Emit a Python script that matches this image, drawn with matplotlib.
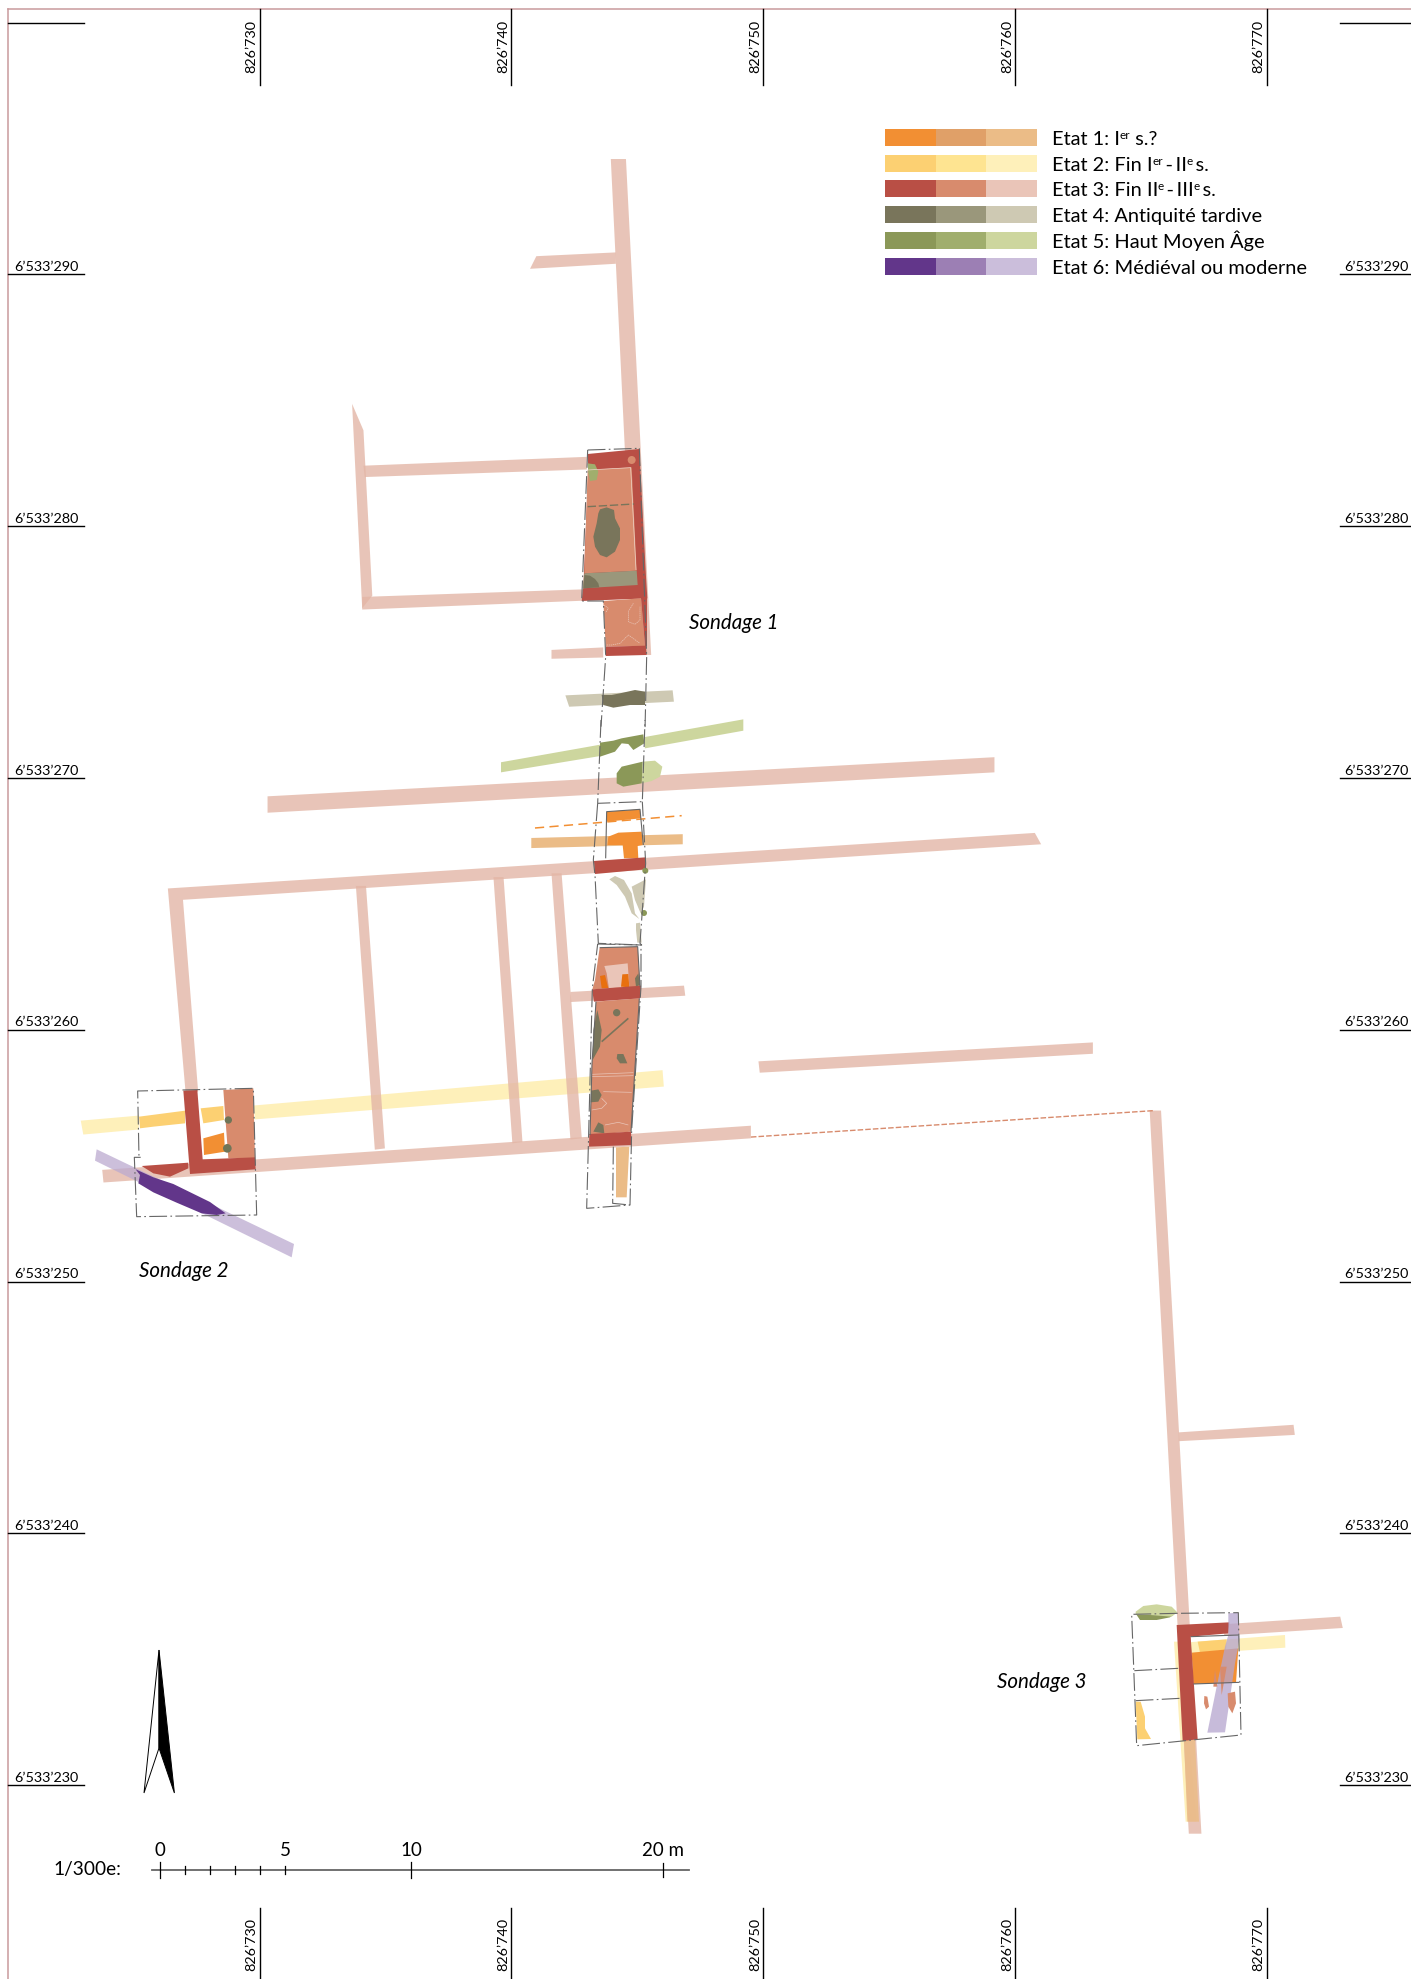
#!/usr/bin/env python3
"""Site plan: Sondages 1-3 on the national grid, by construction state."""

import matplotlib
matplotlib.use("Agg")
import matplotlib.pyplot as plt
import numpy as np
from matplotlib.patches import Circle, Polygon

plt.rcParams["font.family"] = ["Lato", "DejaVu Sans"]

W, H = 1411, 1979
PX_PER_M = 25.18

# grid lines of the sheet
EASTINGS = [826730, 826740, 826750, 826760, 826770]
NORTHINGS = [6533290, 6533280, 6533270, 6533260, 6533250, 6533240, 6533230]
TOP_NORTHING = 6533300
SCALE_TICKS = [0, 1, 2, 3, 4, 5, 10, 20]
SCALE_LABELS = {0: "0", 5: "5", 10: "10", 20: "20 m"}

# state colours: dark (walls), medium (floors), light (restored lines)
STATE_COLOURS = [
    ["#F28F33", "#E0A068", "#EBBC87"],
    ["#FCD072", "#FEE491", "#FEF0BA"],
    ["#B94F45", "#D88B6D", "#EAC5B8"],
    ["#79755B", "#9A977B", "#CEC9B3"],
    ["#8B9858", "#A0AE6D", "#CDD69E"],
    ["#62368A", "#9C7FB4", "#CBBEDB"],
]
# legend text as (text, superscript) runs
STATE_LABELS = [
    [("Etat 1: I", 0), ("er", 1), (" s.?", 0)],
    [("Etat 2: Fin I", 0), ("er", 1), ("\u2009-\u2009II", 0), ("e", 1), ("\u2009s.", 0)],
    [("Etat 3: Fin II", 0), ("e", 1), ("\u2009-\u2009III", 0), ("e", 1), ("\u2009s.", 0)],
    [("Etat 4: Antiquité tardive", 0)],
    [("Etat 5: Haut Moyen Âge", 0)],
    [("Etat 6: Médiéval ou moderne", 0)],
]
SONDAGES = ["Sondage 1", "Sondage 2", "Sondage 3"]

# survey frames: origin on the sheet and pixels per frame unit
OVERVIEW = (0, 0, 1.262)
TRENCH1_N = (540, 430, 1 / 3)
TRENCH1_M = (500, 720, 1 / 3)
TRENCH1_S = (560, 930, 1 / 3)
TRENCH2 = (70, 1060, 1 / 3)
TRENCH3 = (1100, 1580, 1 / 3)

# restored wall lines, state 3 (overview frame)
ROADS = [
    [(484, 126), (496, 126), (516, 519), (503, 519)],
    [(420, 213), (425, 203), (488, 200), (488, 209)],
    [(279, 320), (288, 341), (295, 472), (287, 482)],
    [(288, 369), (465, 362), (465, 372), (289, 378)],
    [(287, 473), (462, 467), (462, 476), (287, 483)],
    [(437, 515), (478, 513), (478, 521), (437, 522)],
    [(212, 631), (788, 600), (788, 612), (212, 644)],
    [(133, 704), (820, 660), (825, 669), (145, 713), (157, 865), (147, 865)],
    [(282, 702), (290, 702), (305, 910), (297, 911)],
    [(391, 695), (399, 695), (414, 905), (406, 906)],
    [(437, 692), (445, 692), (461, 902), (452, 903)],
    [(452, 786), (542, 781), (543, 789), (452, 794)],
    [(601, 841), (866, 826), (866, 835), (602, 850)],
    [(81, 927), (595, 892), (595, 902), (82, 937)],
    [(911, 880), (920, 880), (952, 1453), (942, 1453)],
    [(934, 1135), (1025, 1129), (1026, 1137), (934, 1142)],
    [(970, 1287), (1062, 1281), (1064, 1290), (970, 1296)],
]
ROAD_LINK = [(595, 901), (915, 880)]

# other restored lines (overview frame); they stop at the trench edges
LINES_STATE2 = [
    [(64, 888), (110, 884), (110, 895), (66, 899)],
    [(201, 876), (525, 848), (526, 861), (202, 887)],
]
LINE_STATE1 = [(421, 664), (541, 661), (541, 669), (421, 672)]
LINE_STATE4 = [(448, 551), (533, 547), (534, 556), (451, 560)]
LINES_STATE5 = [
    [(397, 604), (476, 590), (476, 599), (397, 612)],
    [(511, 584), (589, 570), (589, 579), (511, 593)],
]

# Sondage 1, north part
T1N_RED = [(143, 72), (298, 57), (318, 440), (322, 505), (125, 513), (130, 470), (145, 120)]
T1N_FLOOR = [(143, 120), (275, 112), (290, 422), (133, 430)]
T1N_GREY = [(133, 430), (290, 422), (293, 465), (128, 475)]
T1N_ARC = [(130, 475), (133, 435), (150, 437), (165, 447), (175, 460), (178, 472)]
T1N_PIT = [(180, 238), (200, 232), (222, 240), (225, 265), (240, 295), (240, 330), (225, 365),
           (200, 382), (180, 375), (165, 350), (160, 320), (170, 280), (175, 250)]
T1N_GREEN = [(143, 100), (165, 103), (175, 125), (170, 150), (150, 153), (145, 130)]
T1N_ROOM = [(190, 513), (303, 505), (315, 648), (197, 650)]
T1N_ROOM_E = [(303, 505), (320, 505), (320, 648), (315, 648)]
T1N_ROOM_S = [(197, 650), (318, 647), (320, 675), (197, 678)]
T1N_LATE = [(185, 795), (215, 795), (240, 790), (285, 780), (315, 785), (315, 825), (270, 825),
            (220, 833), (190, 825)]
T1N_PALE = [
    [(192, 525), (205, 535), (197, 548)],
    [(280, 520), (265, 545), (265, 575), (285, 583), (300, 570), (300, 530)],
    [(200, 645), (215, 645), (240, 640), (265, 615), (300, 640)],
]
T1N_OUTLINE = [(298, 55), (320, 680), (315, 900)]
T1N_OUTLINE_W = [(143, 60), (298, 55)]
T1N_OUTLINE_L = [(143, 60), (125, 513), (190, 513), (197, 680), (183, 890)]

# Sondage 1, middle part
T1M_GREEN = [(300, 68), (340, 62), (365, 55), (430, 43), (433, 70), (400, 90), (385, 72),
             (365, 70), (345, 95), (300, 110)]
T1M_BLOB_D = [(350, 160), (365, 140), (428, 125), (425, 190), (370, 200), (350, 190)]
T1M_BLOB_L = [(428, 125), (465, 122), (487, 140), (480, 170), (455, 183), (425, 190)]
T1M_DASH = [(105, 324), (545, 287)]
T1M_ORANGE_N = [(320, 275), (420, 268), (423, 295), (320, 305)]
T1M_ORANGE_T = [(325, 350), (355, 338), (425, 335), (428, 375), (413, 378), (415, 415),
                (372, 415), (368, 375), (322, 375)]
T1M_RED = [(282, 423), (437, 412), (437, 448), (285, 462)]
T1M_DOTS = [(436, 452), (432, 579)]
T1M_LATE = [
    [(328, 478), (345, 468), (372, 480), (395, 520), (405, 580), (418, 597), (395, 580),
     (375, 530), (350, 495)],
    [(395, 500), (438, 478), (432, 560), (422, 580), (405, 540)],
    [(408, 610), (420, 608), (425, 668), (412, 668), (408, 630)],
]
T1M_OUTLINES = [
    [(303, 0), (293, 250), (427, 245), (435, 0)],
    [(293, 250), (280, 420), (285, 465), (295, 670), (425, 675), (420, 670), (437, 430), (427, 245)],
]
T1M_SOLID = [(317, 415), (320, 275), (420, 268), (430, 375)]

# Sondage 1, south part
T1S_FLOOR_N = [(119, 53), (233, 50), (240, 170), (97, 178), (105, 150)]
T1S_PALE = [(133, 108), (203, 100), (208, 170), (147, 175), (140, 130)]
T1S_TABS = [[(120, 138), (135, 135), (145, 175), (125, 175)],
            [(187, 133), (205, 132), (208, 172), (183, 170)]]
T1S_RED_N = [(96, 178), (243, 167), (240, 205), (102, 215)]
T1S_FLOOR = [(108, 215), (238, 205), (213, 605), (90, 615), (96, 400)]
T1S_RED_S = [(88, 612), (213, 605), (215, 645), (87, 650)]
T1S_PITS = [
    [(225, 145), (235, 130), (240, 165), (228, 170)],
    [(112, 240), (125, 300), (120, 350), (98, 390), (100, 300)],
    [(172, 372), (190, 372), (202, 400), (180, 400), (170, 385)],
    [(93, 482), (115, 478), (125, 495), (115, 515), (92, 517)],
    [(100, 605), (115, 577), (130, 585), (133, 610)],
]
T1S_PIT_ROUND = (170, 248)
T1S_DITCH = [(125, 335), (205, 265)]
T1S_PALE_LINES = [
    [(95, 433), (220, 428)],
    [(95, 440), (220, 437)],
    [(130, 485), (215, 487)],
    [(125, 505), (140, 520), (125, 535), (95, 540)],
    [(135, 585), (175, 577), (205, 585)],
]
T1S_BAR = [(168, 652), (208, 650), (200, 802), (168, 802)]
T1S_OUTLINES = [
    [(113, 42), (243, 45), (243, 170), (215, 600), (210, 825), (80, 835), (85, 650), (97, 175), (113, 42)],
    [(160, 650), (158, 820), (210, 825)],
]
T1S_SOLID = [[(119, 53), (233, 50), (240, 170)], [(108, 215), (96, 400), (90, 615)], [(238, 205), (213, 605)]]

# Sondage 2
T2_Y1 = [(207, 170), (345, 152), (345, 190), (250, 200), (210, 205)]
T2_Y2 = [(392, 145), (460, 138), (462, 180), (400, 190)]
T2_ORANGE = [(400, 235), (462, 218), (465, 275), (402, 285)]
T2_FLOOR = [(460, 90), (550, 85), (555, 295), (475, 295)]
T2_RED_L = [(340, 92), (382, 90), (398, 298), (555, 292), (557, 328), (360, 342)]
T2_RED_W = [(215, 318), (355, 308), (355, 325), (300, 350), (250, 340)]
T2_DOTS = [(475, 180, 11), (472, 265, 13)]
T2_BAND = [(80, 268), (672, 552), (665, 592), (75, 302)]
T2_PURPLE = [(197, 328), (250, 352), (310, 372), (420, 426), (467, 460), (440, 465), (395, 460),
             (320, 428), (250, 397), (205, 370), (210, 345)]
T2_OUTLINE = [(212, 292), (193, 292), (200, 470), (560, 465), (550, 85), (203, 93), (207, 292)]

# Sondage 3
T3_BLOB_L = [(107, 95), (130, 78), (170, 73), (215, 80), (232, 97), (215, 110), (150, 105), (107, 105)]
T3_BLOB_D = [(110, 105), (225, 100), (210, 112), (170, 120), (120, 120)]
T3_STRIP_Y = [(222, 185), (240, 185), (290, 725), (257, 725)]
T3_STRIP_O = [(252, 480), (285, 480), (297, 725), (262, 725)]
T3_LINE_Y = [(225, 190), (555, 165), (556, 203), (235, 225)]
T3_YELLOW = [(293, 185), (380, 178), (378, 210), (300, 218)]
T3_ORANGE = [(275, 218), (415, 205), (408, 308), (280, 312)]
T3_RED = [(230, 135), (388, 127), (385, 160), (272, 170), (293, 478), (248, 483)]
T3_PURPLE = [(385, 100), (415, 98), (418, 180), (405, 250), (375, 457), (322, 458), (350, 320),
             (375, 200), (385, 165)]
T3_SPOTS = [
    [(383, 340), (405, 335), (408, 370), (397, 400), (385, 380)],
    [(313, 348), (322, 350), (327, 380), (318, 388), (312, 370)],
    [(345, 270), (352, 320), (340, 320)],
    [(360, 260), (380, 260), (365, 345)],
]
T3_YELLOW_W = [(107, 365), (122, 365), (135, 410), (135, 445), (153, 477), (112, 478)]
T3_OUTLINES = [
    [(232, 100), (95, 103), (110, 497), (423, 465), (415, 98), (232, 100)],
    [(103, 272), (235, 265)],
    [(107, 362), (240, 355)],
]
T3_SOLID = [[(280, 312), (418, 307)], [(272, 170), (415, 165)]]

# north arrow, in sheet pixels
ARROW_W = [(159, 1650), (144, 1793), (159, 1748)]
ARROW_E = [(159, 1650), (174.4, 1793), (159, 1748)]


def east(px):
    return EASTINGS[0] + (np.asarray(px, float) - 259.5) / PX_PER_M


def north(py):
    return NORTHINGS[0] - (np.asarray(py, float) - 274.5) / PX_PER_M


def to_map(frame, pts):
    ox, oy, s = frame
    arr = np.asarray(pts, float)
    return np.column_stack([east(ox + arr[:, 0] * s), north(oy + arr[:, 1] * s)])


fig = plt.figure(figsize=(W / 100, H / 100), dpi=100)
ax = fig.add_axes([0, 0, 1, 1])
ax.set_xlim(east(0), east(W))
ax.set_ylim(north(H), north(0))
ax.axis("off")


def fill(frame, pts, colour, alpha=None):
    ax.add_patch(Polygon(to_map(frame, pts), closed=True, facecolor=colour, edgecolor="none",
                         alpha=alpha, zorder=len(ax.patches) + 2))


def line(frame, pts, colour="#666666", lw=0.8, ls="-"):
    xy = to_map(frame, pts)
    ax.plot(xy[:, 0], xy[:, 1], color=colour, lw=lw, ls=ls, zorder=500, solid_capstyle="butt")


def dot(frame, xy, r, colour):
    c = to_map(frame, [xy])[0]
    ax.add_patch(Circle(c, r * frame[2] / PX_PER_M, facecolor=colour, edgecolor="none",
                        zorder=len(ax.patches) + 2))


DASHDOT = (0, (16, 3, 1.5, 3))
E1, E2, E3, E4, E5, E6 = STATE_COLOURS

# sheet border
ax.plot(east([8, W]), north([9, 9]), color="#C99A9C", lw=1.1, zorder=1)
ax.plot(east([8, 8]), north([9, H]), color="#C99A9C", lw=1.1, zorder=1)

# restored lines first, the excavated remains sit on top
for pts in LINES_STATE2:
    fill(OVERVIEW, pts, E2[2])
fill(TRENCH3, T3_STRIP_Y, E2[2])
fill(TRENCH3, T3_LINE_Y, E2[2])
for road in ROADS:
    fill(OVERVIEW, road, "#E3B6A6", alpha=0.8)
line(OVERVIEW, ROAD_LINK, E3[1], lw=1.0, ls=(0, (4, 1.5)))
fill(TRENCH3, T3_STRIP_O, E1[2], alpha=0.85)
fill(OVERVIEW, LINE_STATE1, E1[2])
fill(OVERVIEW, LINE_STATE4, E4[2])
for pts in LINES_STATE5:
    fill(OVERVIEW, pts, E5[2])
fill(TRENCH2, T2_BAND, "#BBAAD0", alpha=0.75)

# Sondage 1 north
fill(TRENCH1_N, T1N_RED, E3[0])
fill(TRENCH1_N, T1N_FLOOR, E3[1])
fill(TRENCH1_N, T1N_GREY, E4[1])
fill(TRENCH1_N, T1N_ARC, E4[0])
fill(TRENCH1_N, T1N_PIT, E4[0])
fill(TRENCH1_N, T1N_GREEN, E5[1])
dot(TRENCH1_N, (275, 90), 12, E3[1])
line(TRENCH1_N, [(143, 230), (282, 222)], E4[0], lw=1.0, ls=(0, (6, 2)))
line(TRENCH1_N, [(143, 120), (272, 113), (288, 420)], "#EFD6CB", lw=0.5)
fill(TRENCH1_N, T1N_ROOM, E3[1])
fill(TRENCH1_N, T1N_ROOM_E, E3[0])
fill(TRENCH1_N, T1N_ROOM_S, E3[0])
fill(TRENCH1_N, T1N_LATE, E4[0])
for pale in T1N_PALE:
    line(TRENCH1_N, pale, E3[2], lw=0.5, ls=(0, (2, 1)))
line(TRENCH1_N, T1N_OUTLINE, ls=DASHDOT)
line(TRENCH1_N, T1N_OUTLINE_W, ls=DASHDOT)
line(TRENCH1_N, T1N_OUTLINE_L, ls=DASHDOT)

# Sondage 1 middle
fill(TRENCH1_M, T1M_GREEN, E5[0])
fill(TRENCH1_M, T1M_BLOB_L, E5[2])
fill(TRENCH1_M, T1M_BLOB_D, E5[0])
line(TRENCH1_M, T1M_DASH, E1[0], lw=1.1, ls=(0, (6, 3.5)))
fill(TRENCH1_M, T1M_ORANGE_N, E1[0])
fill(TRENCH1_M, T1M_ORANGE_T, E1[0])
fill(TRENCH1_M, T1M_RED, E3[0])
for pts in T1M_LATE:
    fill(TRENCH1_M, pts, E4[2])
for xy in T1M_DOTS:
    dot(TRENCH1_M, xy, 9, E5[0])
for pts in T1M_OUTLINES:
    line(TRENCH1_M, pts, ls=DASHDOT)
line(TRENCH1_M, T1M_SOLID)

# Sondage 1 south
fill(TRENCH1_S, T1S_FLOOR_N, E3[1])
fill(TRENCH1_S, T1S_PALE, E3[2])
for pts in T1S_TABS:
    fill(TRENCH1_S, pts, "#E8700F")
fill(TRENCH1_S, T1S_FLOOR, E3[1])
for pts in T1S_PITS:
    fill(TRENCH1_S, pts, E4[0])
dot(TRENCH1_S, T1S_PIT_ROUND, 11, E4[0])
line(TRENCH1_S, T1S_DITCH, E4[0], lw=1.2)
fill(TRENCH1_S, T1S_RED_N, E3[0])
fill(TRENCH1_S, T1S_RED_S, E3[0])
fill(TRENCH1_S, T1S_BAR, E1[2])
for pts in T1S_PALE_LINES:
    line(TRENCH1_S, pts, E3[2], lw=0.5)
for pts in T1S_OUTLINES:
    line(TRENCH1_S, pts, ls=DASHDOT)
for pts in T1S_SOLID:
    line(TRENCH1_S, pts)

# Sondage 2
fill(TRENCH2, T2_Y1, E2[0])
fill(TRENCH2, T2_Y2, E2[0])
fill(TRENCH2, T2_ORANGE, E1[0])
fill(TRENCH2, T2_FLOOR, E3[1])
fill(TRENCH2, T2_RED_L, E3[0])
fill(TRENCH2, T2_RED_W, E3[0])
for x, y, r in T2_DOTS:
    dot(TRENCH2, (x, y), r, "#6F7558")
fill(TRENCH2, T2_PURPLE, E6[0])
line(TRENCH2, T2_OUTLINE, ls=DASHDOT)

# Sondage 3
fill(TRENCH3, T3_BLOB_D, E5[0])
fill(TRENCH3, T3_BLOB_L, E5[2])
fill(TRENCH3, T3_YELLOW, E2[0])
fill(TRENCH3, T3_ORANGE, E1[0])
fill(TRENCH3, T3_YELLOW_W, E2[0])
fill(TRENCH3, T3_RED, E3[0])
fill(TRENCH3, T3_PURPLE, "#B5A5CE", alpha=0.75)
for pts in T3_SPOTS:
    fill(TRENCH3, pts, E3[1])
for pts in T3_OUTLINES:
    line(TRENCH3, pts, ls=DASHDOT)
for pts in T3_SOLID:
    line(TRENCH3, pts)

# grid ticks on the four sides
for e in EASTINGS:
    ax.plot([e, e], north([9, 85]), color="black", lw=1.0, zorder=600)
    ax.plot([e, e], north([1908, H]), color="black", lw=1.0, zorder=600)
    x = e - 2 / PX_PER_M
    label = f"{e // 1000}’{e % 1000:03d}"
    ax.text(x, north(73), label, rotation=90, ha="right", va="bottom", fontsize=10.4, zorder=600)
    ax.text(x, north(1971), label, rotation=90, ha="right", va="bottom", fontsize=10.4, zorder=600)
for n in NORTHINGS + [TOP_NORTHING]:
    ax.plot(east([8, 84]), [n, n], color="black", lw=1.0, zorder=600)
    ax.plot(east([1340, W]), [n, n], color="black", lw=1.0, zorder=600)
for n in NORTHINGS:
    label = f"{n // 1000000}’{n // 1000 % 1000:03d}’{n % 1000:03d}"
    ax.text(east(14), n + 1.5 / PX_PER_M, label, ha="left", va="bottom", fontsize=10.4, zorder=600)
    ax.text(east(1344), n + 1.5 / PX_PER_M, label, ha="left", va="bottom", fontsize=10.4, zorder=600)

# legend, three tones per state
renderer = fig.canvas.get_renderer()
SWATCH_X = [885, 936, 986, 1037]
SWATCH_TOP = [129, 155, 180, 206, 232, 258]
for top, tones, runs in zip(SWATCH_TOP, STATE_COLOURS, STATE_LABELS):
    for i, colour in enumerate(tones):
        ax.fill_between(east(SWATCH_X[i:i + 2]), north(top), north(top + 17), color=colour, lw=0, zorder=600)
    px = 1051.5
    for text, sup in runs:
        size, lift = (8.5, 6) if sup else (14.4, 0)
        t = ax.text(east(px), north(top + 16 - lift), text, fontsize=size, ha="left", va="baseline", zorder=600)
        probe = ax.text(0, 0, text + ".", fontsize=size)
        dotw = ax.text(0, 0, ".", fontsize=size)
        px += probe.get_window_extent(renderer).width - dotw.get_window_extent(renderer).width
        probe.remove()
        dotw.remove()

# sondage names
for name, (px, py) in zip(SONDAGES, [(689, 623), (139, 1271), (997, 1682)]):
    ax.text(east(px), north(py), name, style="italic", fontsize=14.8, ha="left", va="center", zorder=600)

# north arrow
ax.add_patch(Polygon(to_map((0, 0, 1), ARROW_W), facecolor="white", edgecolor="black", lw=0.7, zorder=600))
ax.add_patch(Polygon(to_map((0, 0, 1), ARROW_E), facecolor="black", edgecolor="black", lw=0.7, zorder=600))

# scale bar
scale_x0 = east(159.5)
scale_y = north(1870)
ax.plot(east([152, 689]), [scale_y, scale_y], color="#666666", lw=1.3, zorder=600)
for m in SCALE_TICKS:
    half = 8 if m in (0, 10) else (7 if m == 20 else 4)
    ax.plot([scale_x0 + m, scale_x0 + m], [scale_y - half / PX_PER_M, scale_y + half / PX_PER_M],
            color="black", lw=0.9, zorder=601)
    if m in SCALE_LABELS:
        ax.text(scale_x0 + m, scale_y + 11 / PX_PER_M, SCALE_LABELS[m],
                ha="center", va="bottom", fontsize=13.5, zorder=600)
ax.text(east(121), scale_y, "1/300e:", ha="right", va="center", fontsize=13.8, zorder=600)

fig.savefig("out.png", dpi=100, facecolor="white")
